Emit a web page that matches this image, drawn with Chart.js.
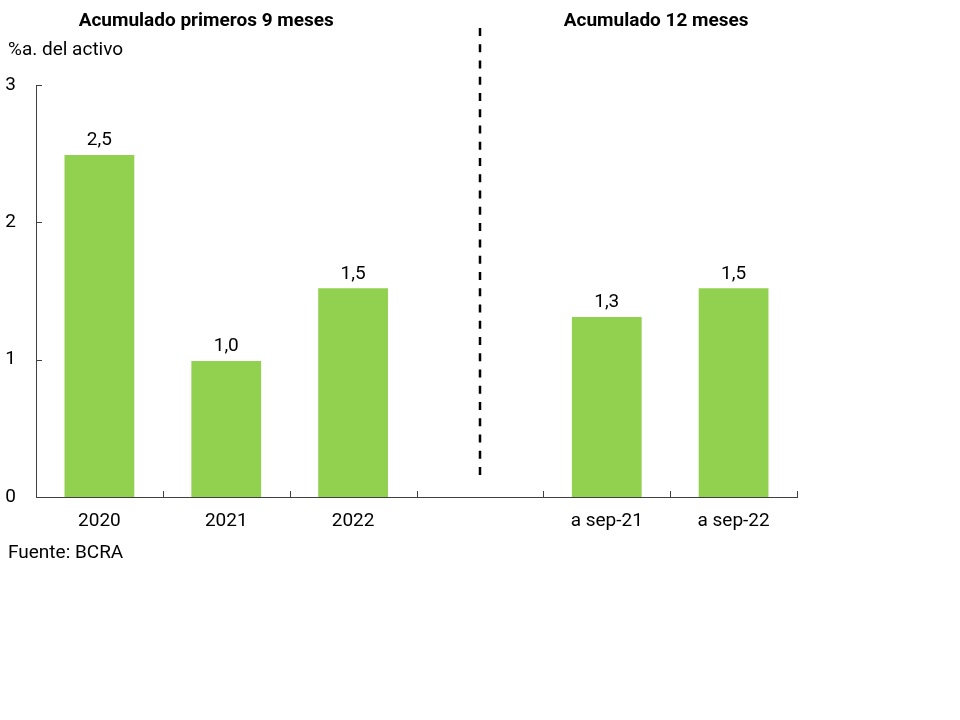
<!DOCTYPE html>
<html>
<head>
<meta charset="utf-8">
<script src="https://cdn.jsdelivr.net/npm/chart.js@4"></script>
<style>
  html, body { margin: 0; padding: 0; background: #fff; }
  #chart { display: block; }
</style>
</head>
<body>
<canvas id="chart" width="960" height="720"></canvas>
<script>
// categories (the empty one holds the dashed separator)
const categories = ['2020', '2021', '2022', '', 'a sep-21', 'a sep-22'];
const values = [2.49, 0.99, 1.52, null, 1.31, 1.52];
const yTicks = [0, 1, 2, 3];
const groupTitles = ['Acumulado primeros 9 meses', 'Acumulado 12 meses'];
const unitLabel = '%a. del activo';
const sourceNote = 'Fuente: BCRA';

const FONT = 'Roboto, "Liberation Sans", Arial, sans-serif';
const GREEN = '#92d050';
const FS = 19;

const extras = {
    id: 'extras',
    afterDatasetsDraw(chart) {
        const ctx = chart.ctx;
        const x = chart.scales.x;
        const y = chart.scales.y;
        const area = chart.chartArea;
        ctx.save();

        // inward tick marks
        ctx.strokeStyle = '#404040';
        ctx.lineWidth = 1;
        ctx.beginPath();
        for (let i = 0; i < categories.length; i++) {
            const px = Math.round(x.getPixelForValue(i + 0.5)) + 0.5;
            ctx.moveTo(px, area.bottom);
            ctx.lineTo(px, area.bottom - 6);
        }
        yTicks.slice(1).forEach(v => {
            const py = Math.round(y.getPixelForValue(v)) + 0.5;
            ctx.moveTo(area.left, py);
            ctx.lineTo(area.left + 6, py);
        });
        ctx.stroke();

        // value labels
        ctx.fillStyle = '#000';
        ctx.font = FS + 'px ' + FONT;
        ctx.textAlign = 'center';
        ctx.textBaseline = 'bottom';
        const meta = chart.getDatasetMeta(0);
        meta.data.forEach((bar, i) => {
            if (values[i] == null) return;
            ctx.fillText(values[i].toFixed(1).replace('.', ','), bar.x, bar.y - 5);
        });

        // dashed separator on the empty category
        const sepX = Math.round(x.getPixelForValue(3));
        ctx.strokeStyle = '#000';
        ctx.lineWidth = 2.5;
        ctx.setLineDash([8, 8.26]);
        ctx.beginPath();
        ctx.moveTo(sepX, 28);
        ctx.lineTo(sepX, 476);
        ctx.stroke();
        ctx.setLineDash([]);

        // group titles
        ctx.font = 'bold ' + FS + 'px ' + FONT;
        ctx.textBaseline = 'middle';
        ctx.fillText(groupTitles[0], x.getPixelForValue(1) - 20, 21);
        ctx.fillText(groupTitles[1], x.getPixelForValue(4.5) - 14, 21);

        // unit and source
        ctx.font = FS + 'px ' + FONT;
        ctx.textAlign = 'left';
        ctx.fillText(unitLabel, 8, 50);
        ctx.fillText(sourceNote, 8, 553);
        ctx.restore();
    }
};

new Chart(document.getElementById('chart').getContext('2d'), {
    type: 'bar',
    data: {
        labels: categories,
        datasets: [{
            data: values,
            backgroundColor: GREEN,
            borderWidth: 0,
            barPercentage: 0.55,
            categoryPercentage: 1
        }]
    },
    options: {
        responsive: false,
        animation: false,
        layout: { padding: { top: 85, right: 163, bottom: 0, left: 0 } },
        plugins: {
            legend: { display: false },
            tooltip: { enabled: false }
        },
        scales: {
            x: {
                grid: { display: false, drawTicks: false },
                border: { display: true, color: '#404040', width: 1 },
                ticks: { color: '#000', font: { family: FONT, size: FS }, padding: 13, maxRotation: 0, autoSkip: false },
                afterFit(scale) { scale.height = 223; }
            },
            y: {
                min: 0,
                max: 3,
                grid: { display: false, drawTicks: false },
                border: { display: true, color: '#404040', width: 1 },
                ticks: {
                    stepSize: 1,
                    color: '#000',
                    font: { family: FONT, size: FS },
                    padding: 20
                },
                afterFit(scale) { scale.width = 36; }
            }
        }
    },
    plugins: [extras]
});
</script>
</body>
</html>
